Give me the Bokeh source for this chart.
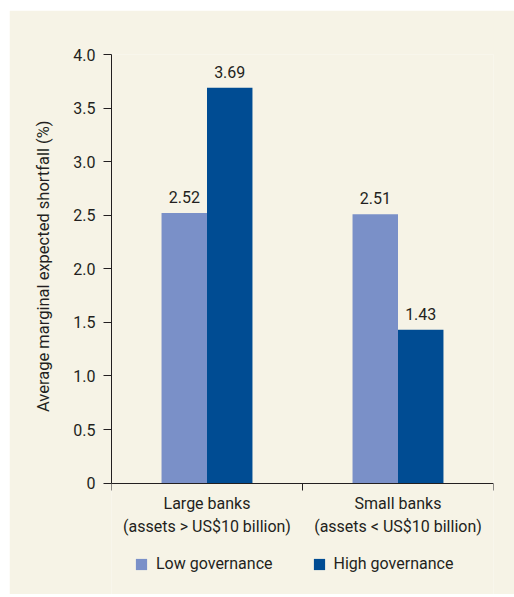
from bokeh.plotting import figure
from bokeh.models import ColumnDataSource, FixedTicker, Range1d, Legend, LegendItem, Title
from bokeh.transform import dodge
from bokeh.core.properties import value
from bokeh.embed import file_html
from bokeh.resources import INLINE

categories = ["Large banks\n(assets > US$10 billion)", "Small banks\n(assets < US$10 billion)"]
low_governance = [2.52, 2.51]
high_governance = [3.69, 1.43]
y_ticks = [0, 0.5, 1.0, 1.5, 2.0, 2.5, 3.0, 3.5, 4.0]
y_tick_labels = ["0", "0.5", "1.0", "1.5", "2.0", "2.5", "3.0", "3.5", "4.0"]
series_names = ["Low governance", "High governance"]
y_title = "Average marginal expected shortfall (%)"

FONT = "Roboto"
FS = "16px"
TXT = "#231F20"
BG = "#F6F3E6"
LIGHT = "#7A90C8"
DARK = "#004C93"

xs = [i + 0.5 for i in range(len(categories))]
src = ColumnDataSource(dict(
    x=xs, low=low_governance, high=high_governance,
    low_lbl=[f"{v:.2f}" for v in low_governance],
    high_lbl=[f"{v:.2f}" for v in high_governance],
))

# the frame extends below zero to hold the axis labels and legend
p = figure(frame_width=382, frame_height=540, output_backend="svg", toolbar_location=None,
           x_range=Range1d(0, len(categories)), y_range=Range1d(-1.04, 4.0),
           min_border_left=102, min_border_right=21, min_border_top=44, min_border_bottom=0)
p.margin = (10, 0, 0, 9)
p.background_fill_color = BG
p.border_fill_color = BG
p.outline_line_color = None
p.xgrid.visible = False
p.ygrid.visible = False

off = 0.119
w = 0.238
r1 = p.vbar(x=dodge("x", -off, range=p.x_range), top="low", width=w, source=src,
            fill_color=LIGHT, line_color=None)
r2 = p.vbar(x=dodge("x", off, range=p.x_range), top="high", width=w, source=src,
            fill_color=DARK, line_color=None)

for col, lbl, o in (("low", "low_lbl", -off), ("high", "high_lbl", off)):
    p.text(x=dodge("x", o, range=p.x_range), y=col, text=lbl, source=src,
           text_align="center", text_baseline="bottom", y_offset=-10,
           text_font=value(FONT), text_font_size=FS, text_color=TXT)

# y axis
ya = p.yaxis[0]
ya.ticker = FixedTicker(ticks=y_ticks)
ya.bounds = (y_ticks[0], y_ticks[-1])
ya.major_label_overrides = {t: l for t, l in zip(y_ticks, y_tick_labels)}
ya.major_tick_in = 0
ya.major_tick_out = 8
ya.minor_tick_line_color = None
ya.major_label_standoff = 8
ya.major_label_text_font = FONT
ya.major_label_text_font_size = FS
ya.major_label_text_color = TXT
ya.axis_line_color = TXT
ya.major_tick_line_color = TXT

# y-axis title, placed against the 0..4 part of the axis
p.add_layout(Title(text=y_title, align="right", offset=66, standoff=35,
                   text_font=FONT, text_font_size="16.5px", text_font_style="normal",
                   text_color=TXT), "left")

# x axis at y = 0: labels at category centres, ticks at category boundaries
xa = p.xaxis[0]
xa.fixed_location = 0
xa.ticker = FixedTicker(ticks=xs, minor_ticks=list(range(len(categories) + 1)))
xa.major_label_overrides = {x: c for x, c in zip(xs, categories)}
xa.major_tick_line_color = None
xa.minor_tick_in = 0
xa.minor_tick_out = 7
xa.minor_tick_line_color = TXT
xa.axis_line_color = TXT
xa.major_label_standoff = 4
xa.major_label_text_font = FONT
xa.major_label_text_font_size = FS
xa.major_label_text_color = TXT

legend = Legend(items=[LegendItem(label=series_names[0], renderers=[r1]),
                       LegendItem(label=series_names[1], renderers=[r2])],
                orientation="horizontal", location=(23, 21),
                glyph_width=14, glyph_height=14, label_standoff=8, spacing=39,
                label_text_font=FONT, label_text_font_size=FS, label_text_color=TXT,
                border_line_color=None, background_fill_alpha=0, padding=4, margin=0)
p.add_layout(legend, "center")

open("out.html", "w").write(file_html(p, INLINE))
